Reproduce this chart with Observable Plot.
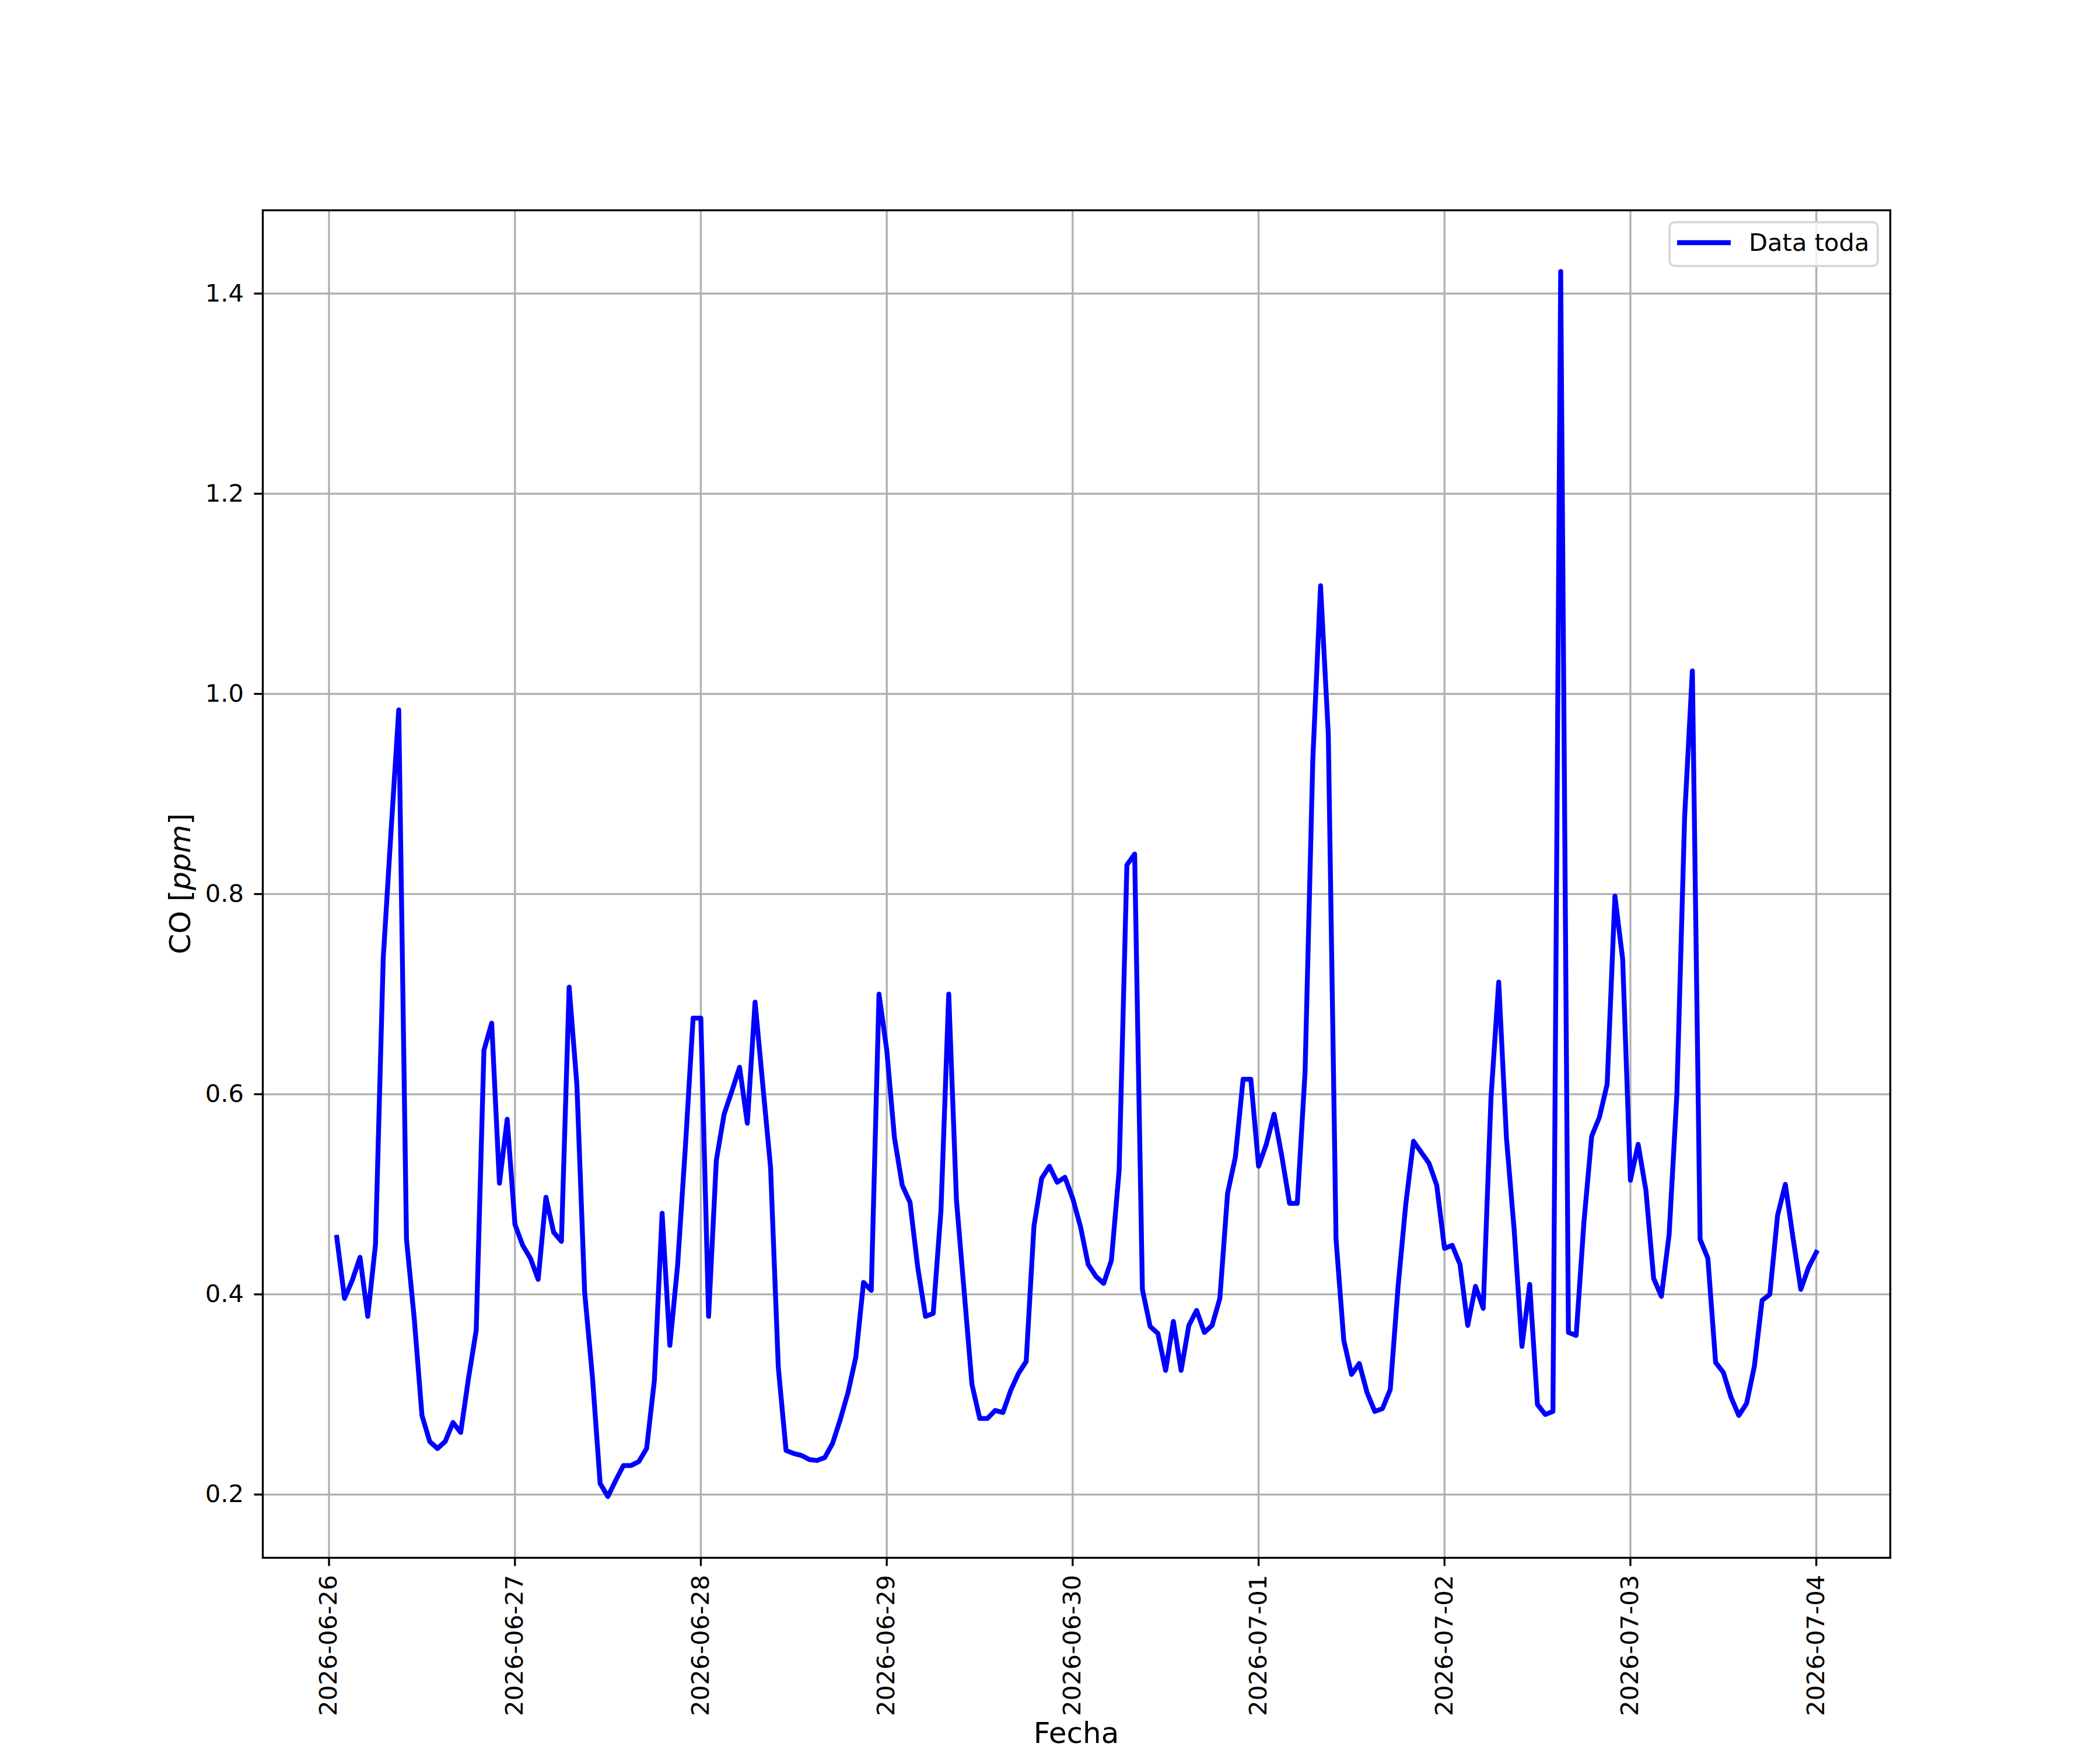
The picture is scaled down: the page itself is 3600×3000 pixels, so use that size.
<!DOCTYPE html>
<html>
<head>
<meta charset="utf-8">
<script src="https://cdn.jsdelivr.net/npm/d3@7"></script>
<script src="https://cdn.jsdelivr.net/npm/@observablehq/plot@0.6"></script>
<style>
  html, body { margin: 0; padding: 0; background: #ffffff; }
  svg { display: block; }
</style>
</head>
<body>
<div id="chart"></div>
<script>
// ---- Data (hourly CO readings, ppm) ----
const startTime = "2026-06-26T01:00:00Z"; // first reading, then one per hour

const co_0626 = [0.457, 0.396, 0.414, 0.437, 0.378, 0.450, 0.736, 0.862, 0.984, 0.455, 0.376, 0.279,
                 0.253, 0.246, 0.253, 0.272, 0.262, 0.316, 0.364, 0.644, 0.671, 0.511, 0.575]; // 01..23
const co_0627 = [0.470, 0.449, 0.436, 0.415, 0.497, 0.462, 0.453, 0.707, 0.609, 0.402, 0.318, 0.211,
                 0.198, 0.214, 0.229, 0.229, 0.233, 0.246, 0.314, 0.481, 0.349, 0.429, 0.547, 0.676];
const co_0628 = [0.676, 0.378, 0.534, 0.580, 0.603, 0.627, 0.571, 0.692, 0.609, 0.527, 0.327, 0.244,
                 0.241, 0.239, 0.235, 0.234, 0.237, 0.251, 0.275, 0.302, 0.337, 0.412, 0.404, 0.700];
const co_0629 = [0.644, 0.556, 0.509, 0.492, 0.427, 0.378, 0.381, 0.484, 0.700, 0.494, 0.402, 0.310,
                 0.276, 0.276, 0.284, 0.282, 0.304, 0.321, 0.333, 0.468, 0.516, 0.528, 0.512, 0.517];
const co_0630 = [0.496, 0.468, 0.430, 0.418, 0.411, 0.434, 0.524, 0.829, 0.840, 0.405, 0.368, 0.361,
                 0.324, 0.373, 0.324, 0.369, 0.384, 0.362, 0.369, 0.396, 0.501, 0.537, 0.615, 0.615];
const co_0701 = [0.528, 0.550, 0.580, 0.538, 0.491, 0.491, 0.622, 0.934, 1.108, 0.960, 0.455, 0.354,
                 0.320, 0.331, 0.302, 0.283, 0.286, 0.305, 0.407, 0.490, 0.553, 0.542, 0.531, 0.509];
const co_0702 = [0.446, 0.449, 0.430, 0.369, 0.408, 0.386, 0.596, 0.712, 0.556, 0.464, 0.348, 0.410,
                 0.290, 0.280, 0.283, 1.422, 0.362, 0.359, 0.472, 0.558, 0.577, 0.610, 0.798, 0.735];
const co_0703 = [0.514, 0.550, 0.504, 0.416, 0.398, 0.460, 0.600, 0.877, 1.023, 0.455, 0.436, 0.332,
                 0.322, 0.297, 0.279, 0.291, 0.328, 0.394, 0.400, 0.479, 0.510, 0.456, 0.405, 0.427];
const co_0704 = [0.442]; // 00:00

const seriesName = "Data toda";
const xLabel = "Fecha";
const yLabelParts = [["CO [", "normal"], ["ppm", "italic"], ["]", "normal"]];

const xTickLabels = ["2026-06-26", "2026-06-27", "2026-06-28", "2026-06-29", "2026-06-30",
                     "2026-07-01", "2026-07-02", "2026-07-03", "2026-07-04"];
const yTickValues = [0.2, 0.4, 0.6, 0.8, 1.0, 1.2, 1.4];

// ---- Build table ----
const values = [].concat(co_0626, co_0627, co_0628, co_0629, co_0630, co_0701, co_0702, co_0703, co_0704);
const t0 = Date.parse(startTime);
const data = values.map((v, i) => ({date: new Date(t0 + i * 3600e3), co: v}));

const PT = 300 / 72; // pixels per point at 300 dpi
const tMin = data[0].date.getTime(), tMax = data[data.length - 1].date.getTime();
const tPad = (tMax - tMin) * 0.05;
const vMin = d3.min(values), vMax = d3.max(values);
const vPad = (vMax - vMin) * 0.05;
const xTicks = xTickLabels.map(s => new Date(s + "T00:00:00Z"));
const fmtDate = d3.utcFormat("%Y-%m-%d");

function overlay(index, scales, vals, dims) {
  const {width, height, marginLeft, marginRight, marginTop, marginBottom} = dims;
  const fx0 = marginLeft, fx1 = width - marginRight, fy0 = marginTop, fy1 = height - marginBottom;
  const g = d3.create("svg:g").attr("font-family", "DejaVu Sans").attr("fill", "black");
  // x label
  g.append("text")
    .attr("x", (fx0 + fx1) / 2).attr("y", fy1 + 318)
    .attr("text-anchor", "middle").attr("font-size", 12 * PT)
    .text(xLabel);
  // y label
  const yl = g.append("text")
    .attr("transform", `translate(${fx0 - 124},${(fy0 + fy1) / 2}) rotate(-90)`)
    .attr("text-anchor", "middle").attr("font-size", 12 * PT);
  for (const [txt, style] of yLabelParts) yl.append("tspan").attr("font-style", style).text(txt);
  // legend
  const lg = g.append("g");
  lg.append("rect")
    .attr("x", fx1 - 378).attr("y", fy0 + 21).attr("width", 357).attr("height", 75)
    .attr("rx", 9).attr("ry", 9)
    .attr("fill", "white").attr("fill-opacity", 0.8)
    .attr("stroke", "#d4d4d4").attr("stroke-width", 3.5);
  lg.append("line")
    .attr("x1", fx1 - 365).attr("x2", fx1 - 273).attr("y1", fy0 + 56).attr("y2", fy0 + 56)
    .attr("stroke", "#0000ff").attr("stroke-width", 2 * PT);
  lg.append("text")
    .attr("x", fx1 - 242).attr("y", fy0 + 70)
    .attr("text-anchor", "start")
    .attr("font-size", 10 * PT)
    .text(seriesName);
  return g.node();
}

const chart = Plot.plot({
  width: 3600,
  height: 3000,
  marginLeft: 450,
  marginRight: 360,
  marginTop: 360,
  marginBottom: 330,
  style: {fontFamily: "DejaVu Sans", background: "white", color: "black", overflow: "visible"},
  x: {type: "utc", domain: [new Date(tMin - tPad), new Date(tMax + tPad)]},
  y: {domain: [vMin - vPad, vMax + vPad]},
  marks: [
    Plot.gridX(xTicks, {stroke: "#b0b0b0", strokeOpacity: 1, strokeWidth: 0.8 * PT}),
    Plot.gridY(yTickValues, {stroke: "#b0b0b0", strokeOpacity: 1, strokeWidth: 0.8 * PT}),
    Plot.line(data, {x: "date", y: "co", stroke: "#0000ff", strokeWidth: 2 * PT,
                     strokeLinejoin: "round", strokeLinecap: "square"}),
    Plot.frame({stroke: "black", strokeWidth: 0.8 * PT}),
    Plot.axisX(xTicks, {anchor: "bottom", tickSize: 3.5 * PT, tickPadding: 3.5 * PT, tickRotate: -90,
                        fontSize: 10 * PT, strokeWidth: 0.8 * PT, tickFormat: fmtDate, label: null}),
    Plot.axisY(yTickValues, {anchor: "left", tickSize: 3.5 * PT, tickPadding: 18,
                             fontSize: 10 * PT, strokeWidth: 0.8 * PT, tickFormat: d3.format(".1f"), label: null}),
    overlay
  ]
});

document.getElementById("chart").appendChild(chart);
</script>
</body>
</html>
